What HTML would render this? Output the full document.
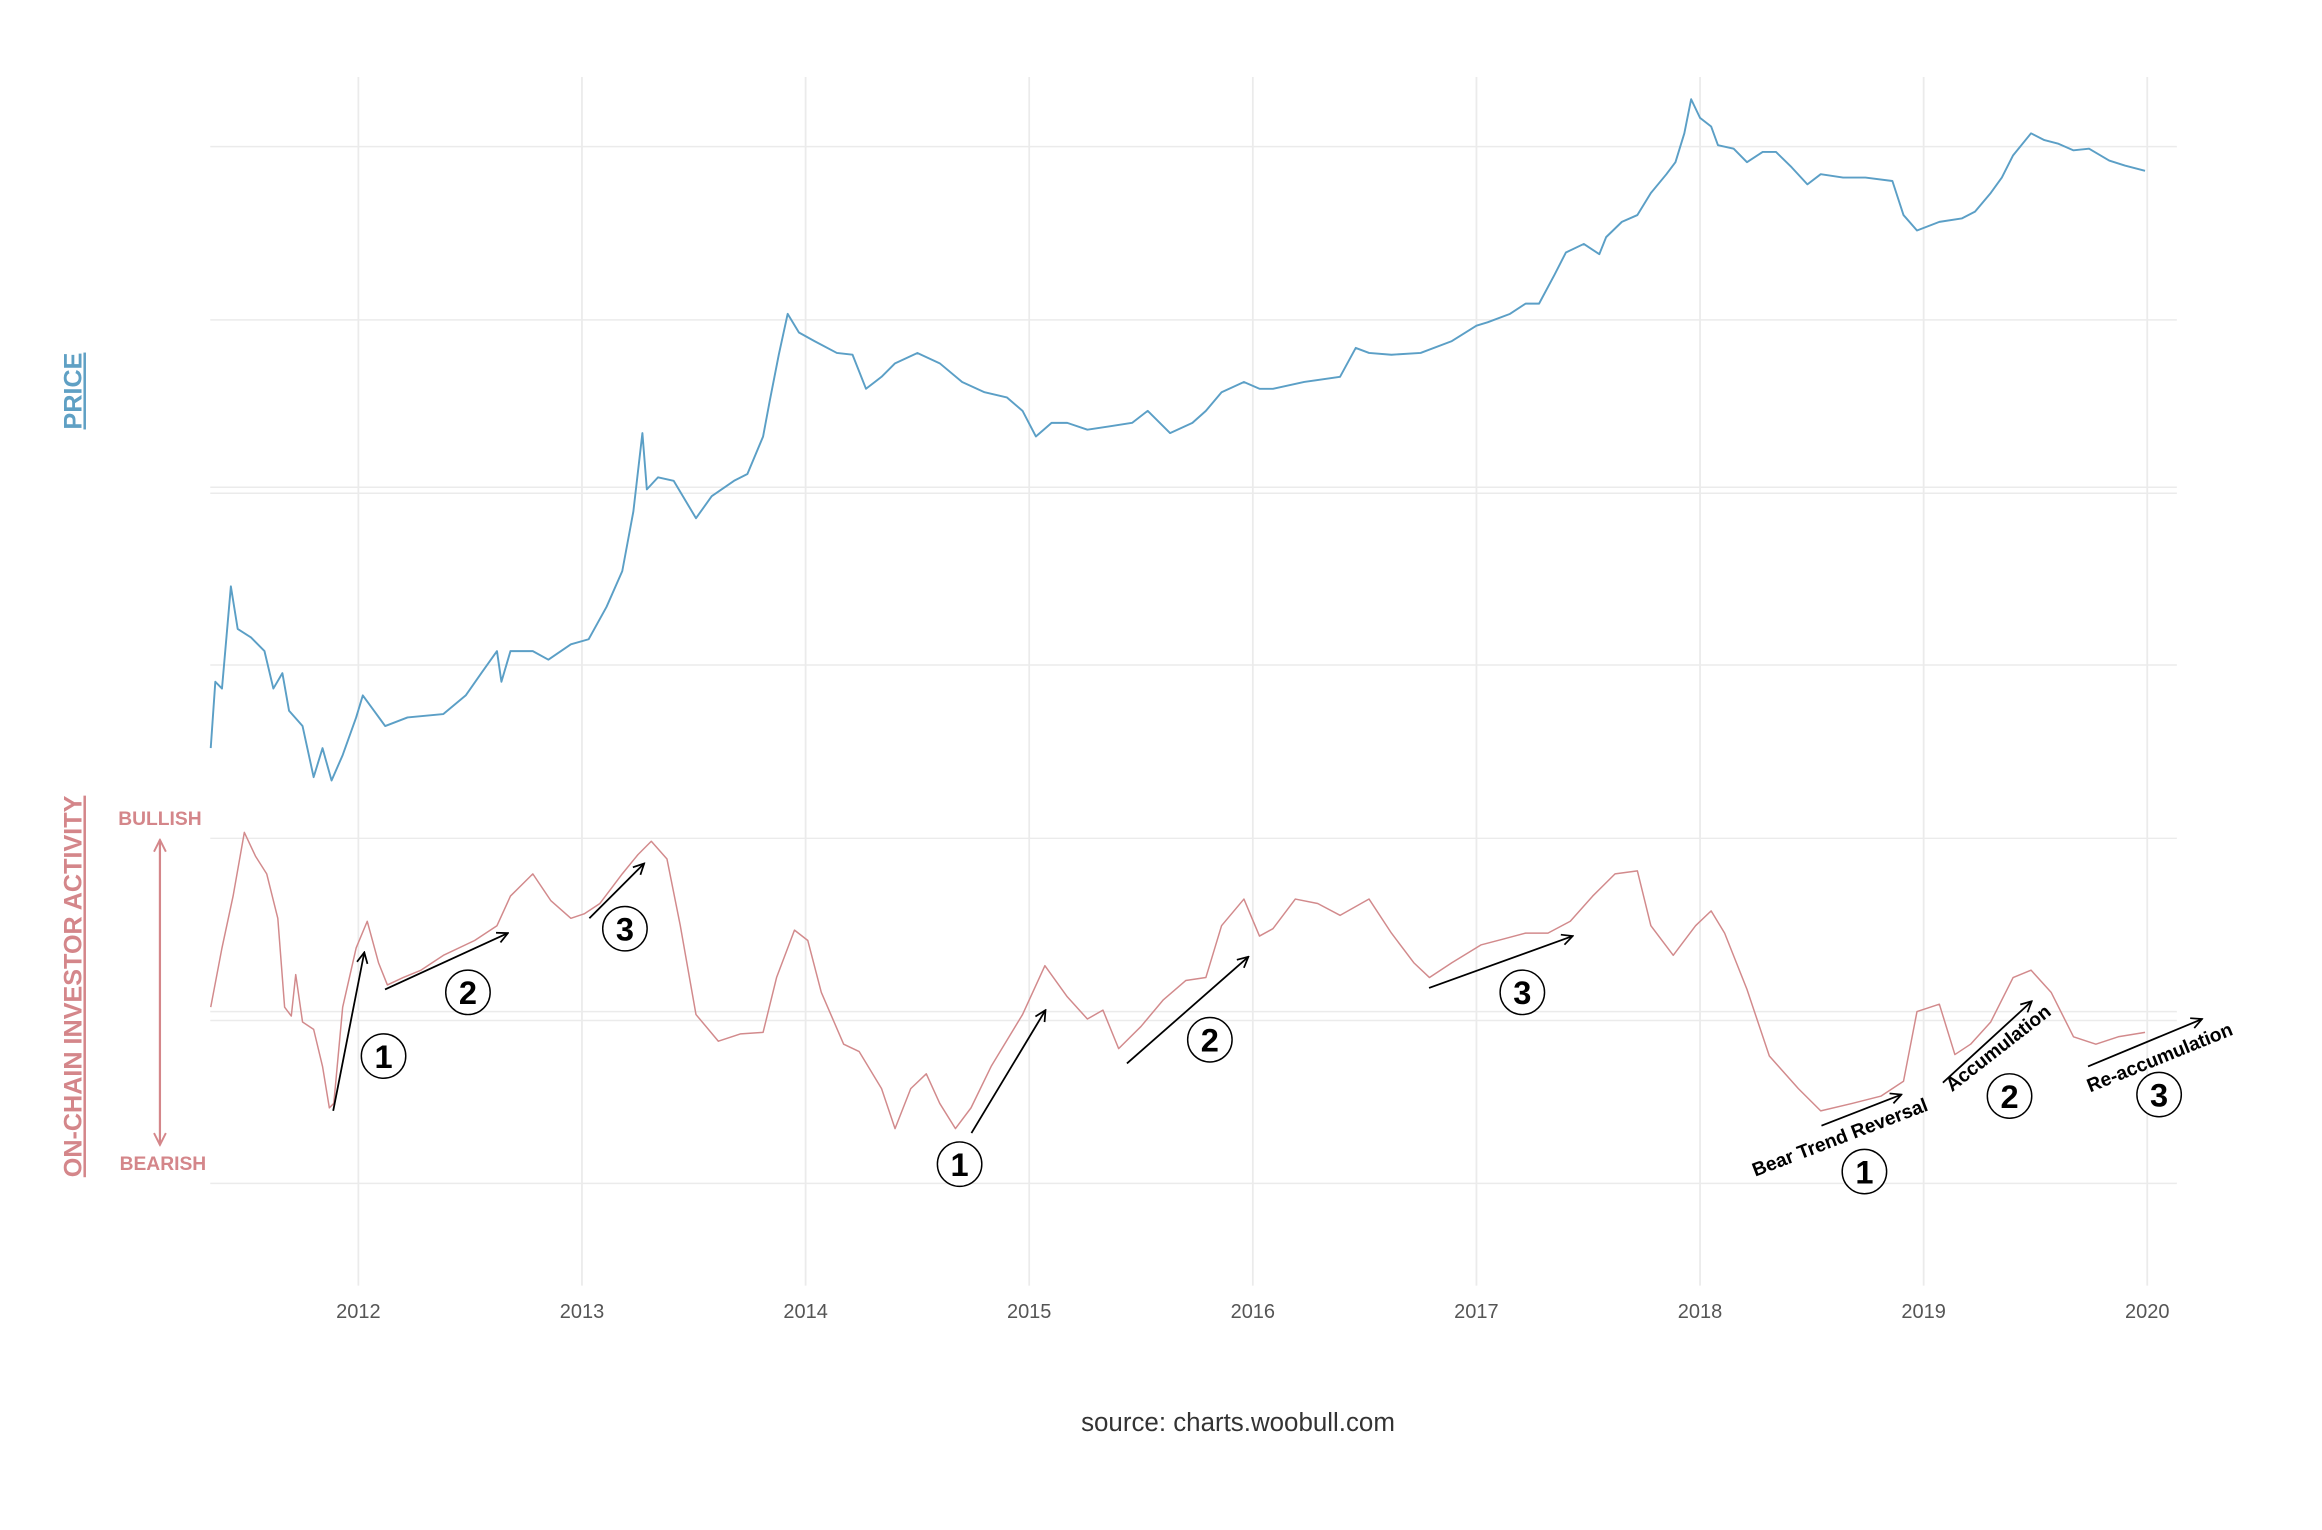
<!DOCTYPE html>
<html><head><meta charset="utf-8"><style>
html,body{margin:0;padding:0;background:#fff;}
svg{display:block;}
</style></head><body>
<svg id="chart" width="2322" height="1530" viewBox="0 0 1568 1033" preserveAspectRatio="none" xmlns="http://www.w3.org/2000/svg" font-family="'Liberation Sans', sans-serif">
<defs>
<marker id="ah" viewBox="0 0 10 10" refX="9" refY="5" markerWidth="9" markerHeight="9" orient="auto" markerUnits="userSpaceOnUse"><path d="M1,1 L9,5 L1,9" fill="none" stroke="#000" stroke-width="1.3"/></marker>
<marker id="ahr" viewBox="0 0 10 10" refX="9" refY="5" markerWidth="10" markerHeight="10" orient="auto-start-reverse" markerUnits="userSpaceOnUse"><path d="M1,1 L9,5 L1,9" fill="none" stroke="#d4868a" stroke-width="1.3"/></marker>
</defs>
<g id="grid"></g>
<g id="xticks"></g>
<path id="price" fill="none" stroke="#5b9fc6" stroke-width="1.3" stroke-linejoin="round"/>
<path id="activity" fill="none" stroke="#d28a8c" stroke-width="1" stroke-linejoin="round"/>

<text transform="translate(55,264) rotate(-90)" text-anchor="middle" font-size="17" font-weight="bold" fill="#5fa0c4" text-decoration="underline">PRICE</text>
<text transform="translate(55,666) rotate(-90)" text-anchor="middle" font-size="17" font-weight="bold" fill="#d4868a" text-decoration="underline">ON-CHAIN INVESTOR ACTIVITY</text>
<text x="108" y="557" text-anchor="middle" font-size="13" font-weight="bold" fill="#d4868a">BULLISH</text>
<text x="110" y="790" text-anchor="middle" font-size="13" font-weight="bold" fill="#d4868a">BEARISH</text>
<line x1="108" y1="567" x2="108" y2="773" stroke="#d4868a" stroke-width="1.5" marker-start="url(#ahr)" marker-end="url(#ahr)"/>

<g id="annotations" font-weight="bold">
<line x1="225" y1="750" x2="246" y2="643" stroke="#000" stroke-width="1.2" marker-end="url(#ah)"/>
<line x1="260" y1="668" x2="343" y2="630" stroke="#000" stroke-width="1.2" marker-end="url(#ah)"/>
<line x1="398" y1="620" x2="435" y2="583" stroke="#000" stroke-width="1.2" marker-end="url(#ah)"/>
<line x1="656" y1="765" x2="706" y2="682" stroke="#000" stroke-width="1.2" marker-end="url(#ah)"/>
<line x1="761" y1="718" x2="843" y2="646" stroke="#000" stroke-width="1.2" marker-end="url(#ah)"/>
<line x1="965" y1="667" x2="1062" y2="632" stroke="#000" stroke-width="1.2" marker-end="url(#ah)"/>
<line x1="1230" y1="760" x2="1284" y2="739" stroke="#000" stroke-width="1.2" marker-end="url(#ah)"/>
<line x1="1312" y1="731" x2="1372" y2="676" stroke="#000" stroke-width="1.2" marker-end="url(#ah)"/>
<line x1="1410" y1="720" x2="1487" y2="688" stroke="#000" stroke-width="1.2" marker-end="url(#ah)"/>

<g><circle cx="259" cy="713" r="15" fill="#fff" stroke="#000" stroke-width="1"/><text x="259" y="721" text-anchor="middle" font-size="22">1</text></g>
<g><circle cx="316" cy="670" r="15" fill="#fff" stroke="#000" stroke-width="1"/><text x="316" y="678" text-anchor="middle" font-size="22">2</text></g>
<g><circle cx="422" cy="627" r="15" fill="#fff" stroke="#000" stroke-width="1"/><text x="422" y="635" text-anchor="middle" font-size="22">3</text></g>
<g><circle cx="648" cy="786" r="15" fill="#fff" stroke="#000" stroke-width="1"/><text x="648" y="794" text-anchor="middle" font-size="22">1</text></g>
<g><circle cx="817" cy="702" r="15" fill="#fff" stroke="#000" stroke-width="1"/><text x="817" y="710" text-anchor="middle" font-size="22">2</text></g>
<g><circle cx="1028" cy="670" r="15" fill="#fff" stroke="#000" stroke-width="1"/><text x="1028" y="678" text-anchor="middle" font-size="22">3</text></g>
<g><circle cx="1259" cy="791" r="15" fill="#fff" stroke="#000" stroke-width="1"/><text x="1259" y="799" text-anchor="middle" font-size="22">1</text></g>
<g><circle cx="1357" cy="740" r="15" fill="#fff" stroke="#000" stroke-width="1"/><text x="1357" y="748" text-anchor="middle" font-size="22">2</text></g>
<g><circle cx="1458" cy="739" r="15" fill="#fff" stroke="#000" stroke-width="1"/><text x="1458" y="747" text-anchor="middle" font-size="22">3</text></g>

<text transform="translate(1244,772) rotate(-21)" text-anchor="middle" font-size="13">Bear Trend Reversal</text>
<text transform="translate(1352,711) rotate(-38)" text-anchor="middle" font-size="13">Accumulation</text>
<text transform="translate(1460,718) rotate(-22)" text-anchor="middle" font-size="13">Re-accumulation</text>
</g>

<text x="836" y="966" text-anchor="middle" font-size="17.5" fill="#333">source: charts.woobull.com</text>
</svg>
<script>
// ---- data ----
const yearTicks = [2012,2013,2014,2015,2016,2017,2018,2019,2020];
const gridRows = [99,216,329,333,449,566,683,689,799];
const priceYears = [2011.34,2011.36,2011.39,2011.43,2011.46,2011.52,2011.58,2011.62,2011.66,2011.69,2011.75,2011.80,2011.84,2011.88,2011.93,2011.99,2012.02,2012.07,2012.12,2012.22,2012.38,2012.48,2012.55,2012.62,2012.64,2012.68,2012.78,2012.85,2012.95,2013.03,2013.11,2013.18,2013.23,2013.27,2013.29,2013.34,2013.41,2013.51,2013.58,2013.68,2013.74,2013.81,2013.84,2013.88,2013.92,2013.97,2014.04,2014.14,2014.21,2014.27,2014.34,2014.40,2014.50,2014.60,2014.70,2014.80,2014.90,2014.97,2015.03,2015.10,2015.17,2015.26,2015.36,2015.46,2015.53,2015.63,2015.73,2015.79,2015.86,2015.96,2016.03,2016.09,2016.23,2016.39,2016.46,2016.52,2016.62,2016.75,2016.89,2017.00,2017.05,2017.15,2017.22,2017.28,2017.35,2017.40,2017.48,2017.55,2017.58,2017.65,2017.72,2017.78,2017.85,2017.89,2017.93,2017.96,2018.00,2018.05,2018.08,2018.15,2018.21,2018.28,2018.34,2018.41,2018.48,2018.54,2018.64,2018.74,2018.86,2018.91,2018.97,2019.07,2019.17,2019.23,2019.30,2019.35,2019.40,2019.48,2019.54,2019.60,2019.67,2019.74,2019.83,2019.90,2019.99];
const priceLog10 = [0.49,0.88,0.84,1.44,1.19,1.14,1.06,0.84,0.93,0.71,0.62,0.32,0.49,0.30,0.45,0.67,0.80,0.71,0.62,0.67,0.69,0.80,0.93,1.06,0.88,1.06,1.06,1.01,1.10,1.13,1.32,1.53,1.88,2.34,2.01,2.08,2.06,1.84,1.97,2.06,2.10,2.32,2.53,2.80,3.04,2.93,2.88,2.81,2.80,2.60,2.67,2.75,2.81,2.75,2.64,2.58,2.55,2.47,2.32,2.40,2.40,2.36,2.38,2.40,2.47,2.34,2.40,2.47,2.58,2.64,2.60,2.60,2.64,2.67,2.84,2.81,2.80,2.81,2.88,2.97,2.99,3.04,3.10,3.10,3.27,3.40,3.45,3.39,3.49,3.58,3.62,3.75,3.86,3.93,4.10,4.30,4.19,4.14,4.03,4.01,3.93,3.99,3.99,3.90,3.80,3.86,3.84,3.84,3.82,3.62,3.53,3.58,3.60,3.64,3.75,3.84,3.97,4.10,4.06,4.04,4.00,4.01,3.94,3.91,3.88];
const activityYears = [2011.34,2011.39,2011.44,2011.49,2011.54,2011.59,2011.64,2011.67,2011.70,2011.72,2011.75,2011.80,2011.84,2011.87,2011.89,2011.93,2011.99,2012.04,2012.09,2012.13,2012.20,2012.28,2012.38,2012.52,2012.62,2012.68,2012.78,2012.86,2012.95,2013.01,2013.08,2013.18,2013.25,2013.31,2013.38,2013.44,2013.51,2013.61,2013.71,2013.81,2013.87,2013.95,2014.01,2014.07,2014.17,2014.24,2014.34,2014.40,2014.47,2014.54,2014.60,2014.67,2014.74,2014.83,2014.97,2015.07,2015.17,2015.26,2015.33,2015.40,2015.50,2015.60,2015.70,2015.79,2015.86,2015.96,2016.03,2016.09,2016.19,2016.29,2016.39,2016.52,2016.62,2016.72,2016.79,2016.89,2017.02,2017.12,2017.22,2017.32,2017.42,2017.52,2017.62,2017.72,2017.78,2017.88,2017.98,2018.05,2018.11,2018.21,2018.31,2018.44,2018.54,2018.68,2018.81,2018.91,2018.97,2019.07,2019.14,2019.21,2019.30,2019.40,2019.48,2019.57,2019.67,2019.77,2019.87,2019.99];
const activityIndex = [120,160,195,238,222,210,180,120,114,142,110,105,80,52,55,120,160,178,150,135,140,145,155,165,175,195,210,192,180,183,190,210,223,232,220,175,115,97,102,103,140,172,165,130,95,90,65,38,65,75,55,38,52,80,115,148,127,112,118,92,107,125,138,140,175,193,168,173,193,190,182,193,170,150,140,150,162,166,170,170,178,195,210,212,175,155,175,185,170,132,87,65,50,55,60,70,117,122,88,95,110,140,145,130,100,95,100,103];

// ---- scales ----
function xScale(yr){ return 242 + (yr - 2012) * 151; }
function yPrice(lg){ return 527 - (lg - 0.30) * 115; }
function yActivity(v){ return 800 - v; }

const NS = 'http://www.w3.org/2000/svg';
const grid = document.getElementById('grid');
gridRows.forEach(function(y){
  const l = document.createElementNS(NS,'line');
  l.setAttribute('x1',142); l.setAttribute('x2',1470);
  l.setAttribute('y1',y); l.setAttribute('y2',y);
  l.setAttribute('stroke','#ebebeb'); l.setAttribute('stroke-width','1');
  
  
  grid.appendChild(l);
});
const xt = document.getElementById('xticks');
yearTicks.forEach(function(yr){
  const x = xScale(yr);
  const l = document.createElementNS(NS,'line');
  l.setAttribute('x1',x); l.setAttribute('x2',x);
  l.setAttribute('y1',52); l.setAttribute('y2',868);
  l.setAttribute('stroke','#ebebeb'); l.setAttribute('stroke-width','1.2');
  
  
  grid.appendChild(l);
  const t = document.createElementNS(NS,'text');
  t.setAttribute('x',x); t.setAttribute('y',890);
  t.setAttribute('text-anchor','middle'); t.setAttribute('font-size','13.5'); t.setAttribute('fill','#555');
  t.textContent = yr;
  
  
  xt.appendChild(t);
});
function buildPath(xs, ys, fy){
  let d='';
  for(let i=0;i<xs.length;i++){ d += (i?'L':'M') + xScale(xs[i]).toFixed(1) + ',' + fy(ys[i]).toFixed(1); }
  return d;
}
document.getElementById('price').setAttribute('d', buildPath(priceYears, priceLog10, yPrice));
document.getElementById('activity').setAttribute('d', buildPath(activityYears, activityIndex, yActivity));
</script>
</body></html>
